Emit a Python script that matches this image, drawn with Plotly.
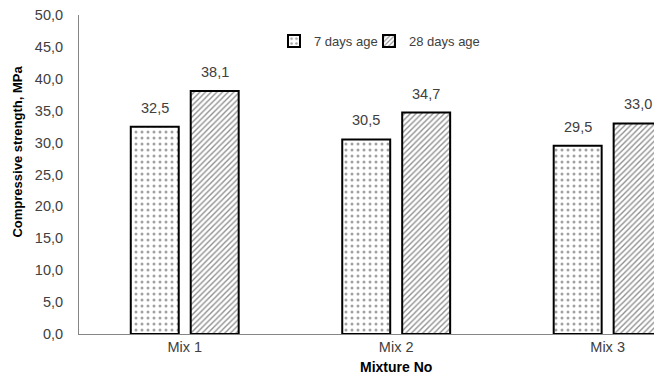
import plotly.graph_objects as go

categories = ["Mix 1", "Mix 2", "Mix 3"]
days7 = [32.5, 30.5, 29.5]
days28 = [38.1, 34.7, 33.0]
series_names = ["7 days age", "28 days age"]
y_title = "Compressive strength, MPa"
x_title = "Mixture No"

font_family = "Liberation Sans, Arial, sans-serif"
label_color = "#404040"

fig = go.Figure()
fig.add_trace(go.Bar(
    x=categories, y=days7, name=series_names[0], legend="legend",
    marker=dict(color="white", line=dict(color="black", width=2),
                pattern=dict(shape=".", size=6, solidity=0.2, fgcolor="#444444", bgcolor="white")),
    cliponaxis=False,
))
fig.add_trace(go.Bar(
    x=categories, y=days28, name=series_names[1], legend="legend2",
    marker=dict(color="white", line=dict(color="black", width=2),
                pattern=dict(shape="/", size=4, solidity=0.35, fgcolor="#222222", bgcolor="white")),
    cliponaxis=False,
))

annotations = []
for series, shift in ((days7, -30), (days28, 30)):
    for cat, v in zip(categories, series):
        annotations.append(dict(
            x=cat, y=v, xref="x", yref="y", text=f"{v:.1f}".replace(".", ","),
            showarrow=False, xshift=shift, yshift=9, yanchor="bottom",
            font=dict(size=14.5, color=label_color, family=font_family)))

annotations.append(dict(
    x=0, y=0.572, xref="paper", yref="paper", text=f"<b>{y_title}</b>", textangle=-90,
    showarrow=False, xanchor="center", yanchor="middle", xshift=-61,
    font=dict(size=13, color="black", family=font_family)))
annotations.append(dict(
    x=categories[1], y=0, xref="x", yref="paper", text=f"<b>{x_title}</b>",
    showarrow=False, xanchor="center", yanchor="middle", yshift=-33,
    font=dict(size=14, color="black", family=font_family)))

legend_common = dict(orientation="h", xanchor="left", y=0.918, yanchor="middle",
                     font=dict(size=13, color=label_color), itemwidth=30,
                     bgcolor="rgba(0,0,0,0)")

fig.update_layout(
    width=654, height=368,
    margin=dict(l=71, r=0, t=7, b=42),
    paper_bgcolor="white", plot_bgcolor="white",
    separators=", ",
    barmode="group", bargap=0.433, bargroupgap=0.2,
    font=dict(family=font_family, size=14.5, color=label_color),
    showlegend=True,
    legend=dict(x=0.3345, **legend_common),
    legend2=dict(x=0.4974, **legend_common),
    annotations=annotations,
    xaxis=dict(range=[-0.5, 2.257], showline=True, linecolor="#868686", linewidth=1,
               ticks="", showgrid=False, tickfont=dict(size=14.5, color=label_color)),
    yaxis=dict(range=[0, 50], dtick=5, tickformat=".1f", showline=True, linecolor="#868686",
               linewidth=1, ticks="", showgrid=False, zeroline=False,
               ticklabeloverflow="allow",
               ticklabelstandoff=12, tickfont=dict(size=14.5, color=label_color)),
)

fig.write_html("out.html")
